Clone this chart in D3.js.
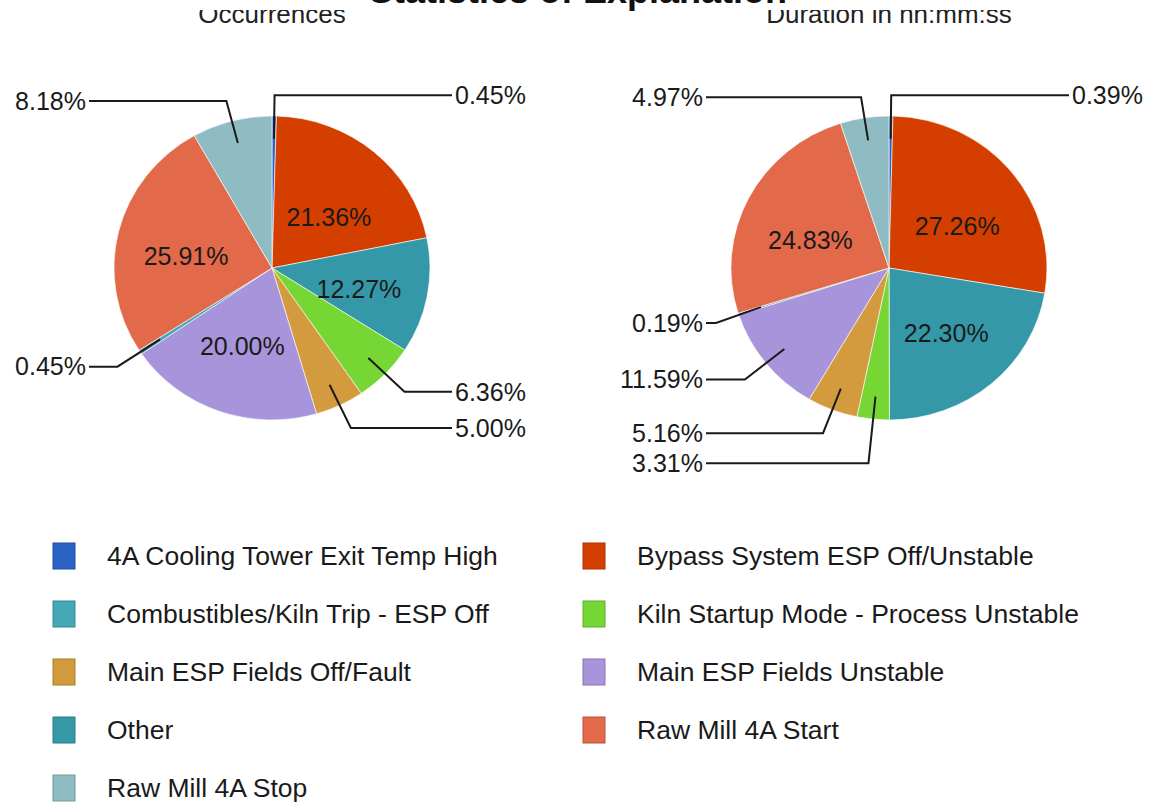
<!DOCTYPE html>
<html>
<head>
<meta charset="utf-8">
<script src="https://cdn.jsdelivr.net/npm/d3@7"></script>
<style>
  body { margin: 0; background: #fff; }
  svg { display: block; font-family: "Liberation Sans", Arial, sans-serif; }
</style>
</head>
<body>
<svg id="chart" width="1156" height="804"></svg>
<script>
// legend order (alphabetical)
var categories = [
  "4A Cooling Tower Exit Temp High",
  "Bypass System ESP Off/Unstable",
  "Combustibles/Kiln Trip - ESP Off",
  "Kiln Startup Mode - Process Unstable",
  "Main ESP Fields Off/Fault",
  "Main ESP Fields Unstable",
  "Other",
  "Raw Mill 4A Start",
  "Raw Mill 4A Stop"
];
var colors = ["#2b62c6", "#d43f00", "#44a8b9", "#76d734", "#d49a3e",
              "#a894da", "#3598a8", "#e2694a", "#8fbbc3"];

// slice order, clockwise from 12 o'clock
var sliceOrder = [
  "4A Cooling Tower Exit Temp High",
  "Bypass System ESP Off/Unstable",
  "Other",
  "Kiln Startup Mode - Process Unstable",
  "Main ESP Fields Off/Fault",
  "Main ESP Fields Unstable",
  "Combustibles/Kiln Trip - ESP Off",
  "Raw Mill 4A Start",
  "Raw Mill 4A Stop"
];
var occurrences = [0.45, 21.36, 12.27, 6.36, 5.00, 20.00, 0.45, 25.91, 8.18];
var duration    = [0.39, 27.26, 22.30, 3.31, 5.16, 11.59, 0.19, 24.83, 4.97];

var chartTitle = "Statistics of Explanation";
var pieTitles = ["Occurrences", "Duration in hh:mm:ss"];

var svg = d3.select("#chart");
var color = d3.scaleOrdinal().domain(categories).range(colors);
var fmt = function (v) { return d3.format(".2f")(v) + "%"; };

var rx = 158, ry = 152, cy = 268;
var centers = [272, 889];
var insideMin = 12;

// draw one pie with its labels
function drawPie(cx, values, title) {
  var data = sliceOrder.map(function (c, i) { return {cat: c, val: values[i]}; });
  var pie = d3.pie().sort(null).value(function (d) { return d.val; });
  var arcs = pie(data);
  var arc = d3.arc().innerRadius(0).outerRadius(1);

  var g = svg.append("g");
  g.append("g")
    .attr("transform", "translate(" + cx + "," + cy + ") scale(" + rx + "," + ry + ")")
    .selectAll("path").data(arcs).enter().append("path")
    .attr("d", arc)
    .attr("fill", function (d) { return color(d.data.cat); })
    .attr("stroke", "#ffffff")
    .attr("stroke-opacity", 0.6)
    .attr("stroke-width", 1)
    .attr("vector-effect", "non-scaling-stroke");

  // inside labels
  arcs.filter(function (d) { return d.data.val >= insideMin; }).forEach(function (d) {
    var a = (d.startAngle + d.endAngle) / 2;
    g.append("text")
      .attr("x", cx + Math.sin(a) * rx * 0.56)
      .attr("y", cy - Math.cos(a) * ry * 0.5 + 7)
      .attr("dy", "0.35em")
      .attr("text-anchor", "middle")
      .attr("font-size", 25)
      .attr("fill", "#1a1a1a")
      .text(fmt(d.data.val));
  });

  // outside labels with callouts
  var outs = arcs.filter(function (d) { return d.data.val < insideMin; }).map(function (d) {
    var a = (d.startAngle + d.endAngle) / 2;
    return {d: d, a: a, right: Math.sin(a) >= 0, y: cy - Math.cos(a) * ry * 1.15 + 2};
  });
  [true, false].forEach(function (side) {
    var list = outs.filter(function (o) { return o.right === side; })
      .sort(function (p, q) { return p.y - q.y; });
    for (var i = 1; i < list.length; i++) {
      list[i].y = Math.max(list[i].y, list[i - 1].y + 30);
    }
  });

  outs.forEach(function (o) {
    var s = Math.sin(o.a), c = Math.cos(o.a);
    var ax = cx + s * rx * 0.85, ay = cy - c * ry * 0.85;
    var ex = ax;
    if (Math.abs(c) > 0.05) {
      var t = (cy - o.y) / (c * ry);
      if (t > 0.85) ex = cx + s * rx * t;
    }
    var lx = o.right ? cx + 180 : cx - 183;
    if (o.right) ex = Math.min(ex, lx - 10); else ex = Math.max(ex, lx + 10);
    g.append("path")
      .attr("d", d3.line()([[ax, ay], [ex, o.y], [lx, o.y]]))
      .attr("fill", "none")
      .attr("stroke", "#1a1a1a")
      .attr("stroke-width", 2);
    g.append("text")
      .attr("x", o.right ? lx + 3 : lx - 3)
      .attr("y", o.y)
      .attr("dy", "0.35em")
      .attr("text-anchor", o.right ? "start" : "end")
      .attr("font-size", 25)
      .attr("fill", "#1a1a1a")
      .text(fmt(o.d.data.val));
  });

  // sub title (top is clipped in the reference)
  g.append("text")
    .attr("x", cx)
    .attr("y", 23)
    .attr("text-anchor", "middle")
    .attr("font-size", 26)
    .attr("fill", "#222")
    .text(title);
}

drawPie(centers[0], occurrences, pieTitles[0]);
drawPie(centers[1], duration, pieTitles[1]);

// cover the top of the sub titles, then the cut off main title
svg.append("rect").attr("x", 0).attr("y", 0).attr("width", 1156).attr("height", 10).attr("fill", "#fff");
svg.append("text")
  .attr("x", 578)
  .attr("y", 3)
  .attr("text-anchor", "middle")
  .attr("font-size", 36)
  .attr("font-weight", "bold")
  .attr("fill", "#111")
  .text(chartTitle);

// legend, two columns
var legend = svg.append("g").selectAll("g").data(categories).enter().append("g")
  .attr("transform", function (d, i) {
    return "translate(" + (i % 2 === 0 ? 53 : 583) + "," + (556 + Math.floor(i / 2) * 58) + ")";
  });
legend.append("rect")
  .attr("x", 0).attr("y", -13)
  .attr("width", 22).attr("height", 26)
  .attr("fill", function (d) { return color(d); })
  .attr("stroke", function (d) { return d3.color(color(d)).darker(0.6); })
  .attr("stroke-width", 1);
legend.append("text")
  .attr("x", 54)
  .attr("dy", "0.35em")
  .attr("font-size", 26.5)
  .attr("fill", "#1a1a1a")
  .text(function (d) { return d; });
</script>
</body>
</html>
